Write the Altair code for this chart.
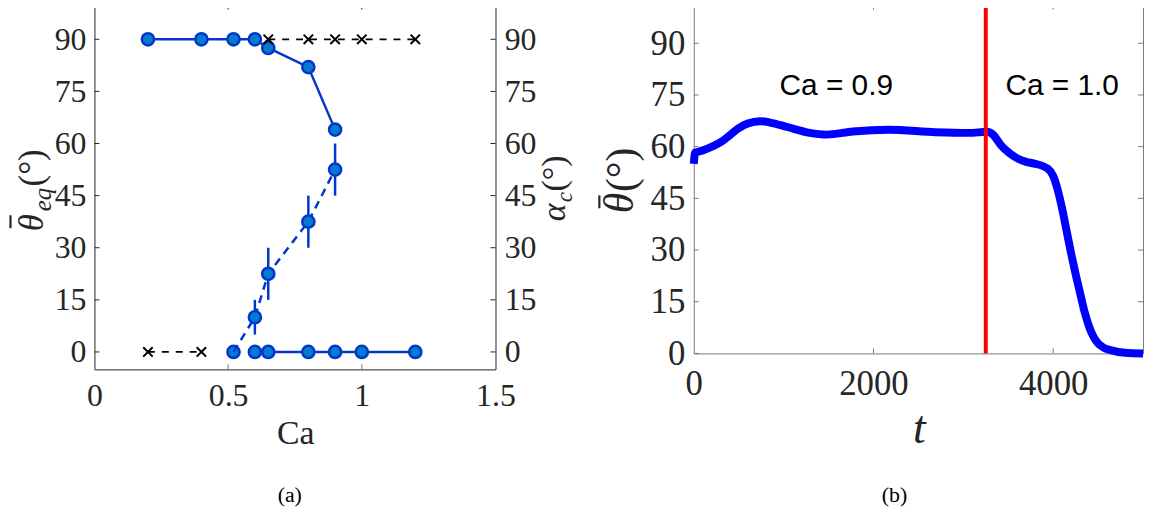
import altair as alt
import pandas as pd

# ---------------- Panel (a) data ----------------
ca_upper = [0.2, 0.4, 0.52, 0.6, 0.65, 0.8, 0.9]
theta_upper = [90, 90, 90, 90, 87.5, 82, 64]
ca_lower_line = [0.6, 0.65, 0.8, 0.9, 1.0, 1.2]
ca_lower_pts = [0.52, 0.6, 0.65, 0.8, 0.9, 1.0, 1.2]
theta_lower = [0, 0, 0, 0, 0, 0, 0]
ca_alpha = [0.52, 0.6, 0.65, 0.8, 0.9]
alpha_c = [0, 10, 22.5, 37.5, 52.5]
alpha_lo = [0, 5, 15, 30, 45]
alpha_hi = [0, 15, 30, 45, 60]
ca_cross_hi = [0.65, 0.8, 0.9, 1.0, 1.2]
cross_hi = [90, 90, 90, 90, 90]
ca_cross_lo = [0.2, 0.4]
cross_lo = [0, 0]
y_ticks = [0, 15, 30, 45, 60, 75, 90]
xa_ticks = [0, 0.5, 1, 1.5]
xa_inner = [0.5, 1]

# ---------------- Panel (b) data ----------------
t_vals = [0, 15, 60, 120, 200, 300, 400, 490, 600, 740, 850, 1040, 1290, 1480,
          1770, 2170, 2690, 3060, 3270, 3330, 3420, 3510, 3610, 3700, 3790, 3940,
          4000, 4050, 4100, 4150, 4200, 4250, 4300, 4350, 4400, 4450, 4500, 4560,
          4650, 4800, 5000]
theta_t = [55, 58.3, 58.6, 59.1, 60, 61.3, 63.3, 65.2, 66.7, 67.4, 67, 65.7, 64.0,
           63.5, 64.4, 64.9, 64.2, 64.0, 64.3, 63.5, 60.4, 58.2, 56.5, 55.6, 55.1,
           53.6, 51.5, 47.5, 42, 35.5, 29, 23, 17.5, 12, 7.8, 4.8, 2.9, 1.7,
           0.9, 0.2, 0]
t_switch = [3250]
ann_t = [1586, 4100]
ann_y = [77.7, 77.7]
ann_text = ["Ca = 0.9", "Ca = 1.0"]
xb_ticks = [0, 2000, 4000]
xb_inner = [2000, 4000]

SERIF = "Liberation Serif"
SANS = "Liberation Sans"
DARK = "#262626"
GRAY = "#7a7a7a"
LINE_BLUE = "#0038CC"
FILL_BLUE = "#0779CF"

W1, H1 = 403.5, 367
W2, H2 = 452, 351

one = pd.DataFrame({"a": [0]})

def txt(s, x, y, size, angle=0, style="normal", font=SERIF, align="center",
        baseline="middle", color=DARK):
    return alt.Chart(one).mark_text(
        text=s, fontSize=size, angle=angle, fontStyle=style, font=font,
        align=align, baseline=baseline, color=color
    ).encode(x=alt.value(x), y=alt.value(y))

def bar(x, y1, y2, color=DARK):
    return alt.Chart(one).mark_rule(color=color, strokeWidth=2.2).encode(
        x=alt.value(x), x2=alt.value(x), y=alt.value(y1), y2=alt.value(y2))

def ghost(x, y):
    return alt.Chart(one).mark_rule(strokeOpacity=0, strokeWidth=1).encode(
        x=alt.value(x), x2=alt.value(x), y=alt.value(y), y2=alt.value(y + 1))

# ---------- Panel (a) ----------
sxA = alt.Scale(domain=[0, 1.5], nice=False, zero=False)
syA = alt.Scale(domain=[-5, 100], nice=False, zero=False)

axA_x = alt.Axis(values=xa_ticks, format="~g", ticks=False, grid=False, domain=True,
                 domainColor=GRAY, domainWidth=1, labelFont=SERIF, labelFontSize=32,
                 labelColor=DARK, labelPadding=11, labelFlush=False, labelOverlap=False,
                 title=None)
axA_yl = alt.Axis(values=y_ticks, orient="left", ticks=False, grid=False, domain=False,
                  labelFont=SERIF, labelFontSize=32, labelColor=DARK, labelPadding=8.5,
                  labelOverlap=False, title=None)
axA_yr = alt.Axis(values=y_ticks, orient="right", ticks=False, grid=False, domain=False,
                  labelFont=SERIF, labelFontSize=32, labelColor=DARK, labelPadding=8.7,
                  labelOverlap=False, title=None)

def XA(f):
    return alt.X(f, type="quantitative", scale=sxA, axis=axA_x)

def YA(f):
    return alt.Y(f, type="quantitative", scale=syA, axis=axA_yl)

df_up = pd.DataFrame({"ca": ca_upper, "th": theta_upper})
df_lowl = pd.DataFrame({"ca": ca_lower_line, "th": [0] * len(ca_lower_line)})
df_lowp = pd.DataFrame({"ca": ca_lower_pts, "th": theta_lower})
df_al = pd.DataFrame({"ca": ca_alpha, "al": alpha_c, "lo": alpha_lo, "hi": alpha_hi})
df_xh = pd.DataFrame({"ca": ca_cross_hi, "v": cross_hi})
df_xl = pd.DataFrame({"ca": ca_cross_lo, "v": cross_lo})
df_yt = pd.DataFrame({"v": y_ticks})
df_xat = pd.DataFrame({"v": xa_inner})

circle = dict(shape="circle", size=150, filled=True, fill=FILL_BLUE, stroke=LINE_BLUE,
              strokeWidth=2.5, opacity=1)
cross = dict(shape="M-1,-1L1,1M-1,1L1,-1", size=90, filled=False, stroke="black",
             strokeWidth=2, opacity=1)

a_layers = [
    alt.Chart(df_up).mark_line(color=LINE_BLUE, strokeWidth=2.5).encode(
        x=XA("ca"), y=YA("th")),
    alt.Chart(df_up).mark_point(**circle).encode(x=XA("ca"), y=YA("th")),
    alt.Chart(df_lowl).mark_line(color=LINE_BLUE, strokeWidth=2.5).encode(
        x=XA("ca"), y=YA("th")),
    alt.Chart(df_lowp).mark_point(**circle).encode(x=XA("ca"), y=YA("th")),
    alt.Chart(df_al).mark_line(color=LINE_BLUE, strokeWidth=2.5, strokeDash=[8, 6]).encode(
        x=XA("ca"), y=YA("al")),
    alt.Chart(df_al[df_al.hi > 0]).mark_rule(color=LINE_BLUE, strokeWidth=2.5).encode(
        x=XA("ca"), y=YA("lo"), y2="hi"),
    alt.Chart(df_al[df_al.hi > 0]).mark_point(**circle).encode(x=XA("ca"), y=YA("al")),
    alt.Chart(df_xh).mark_line(color="black", strokeWidth=1.8, strokeDash=[7, 7]).encode(
        x=XA("ca"), y=YA("v")),
    alt.Chart(df_xh).mark_point(**cross).encode(x=XA("ca"), y=YA("v")),
    alt.Chart(df_xl).mark_line(color="black", strokeWidth=1.8, strokeDash=[7, 7]).encode(
        x=XA("ca"), y=YA("v")),
    alt.Chart(df_xl).mark_point(**cross).encode(x=XA("ca"), y=YA("v")),
    # inward ticks
    alt.Chart(df_yt).mark_rule(color=DARK, strokeWidth=1).encode(
        y=YA("v"), x=alt.value(0), x2=alt.value(5)),
    alt.Chart(df_yt).mark_rule(color=DARK, strokeWidth=1).encode(
        y=YA("v"), x=alt.value(W1 - 5), x2=alt.value(W1)),
    alt.Chart(df_xat).mark_rule(color=DARK, strokeWidth=1).encode(
        x=XA("v"), y=alt.value(0), y2=alt.value(5)),
    alt.Chart(df_xat).mark_rule(color=GRAY, strokeWidth=1).encode(
        x=XA("v"), y=alt.value(H1 - 5), y2=alt.value(H1)),
    # titles
    txt("θ", -51.5, 228, 35, angle=270, style="italic", align="left", baseline="alphabetic"),
    bar(-84.5, 212, 225),
    txt("eq", -44, 208, 25, angle=270, style="italic", align="left", baseline="alphabetic"),
    txt("(°)", -51.5, 183, 35, angle=270, align="left", baseline="alphabetic"),
    txt("α", 473.5, 218, 34, angle=270, style="italic", align="left", baseline="alphabetic"),
    txt("c", 480, 199, 23, angle=270, style="italic", align="left", baseline="alphabetic"),
    txt("(°)", 473.5, 188, 34, angle=270, align="left", baseline="alphabetic"),
    txt("Ca", 202.5, 432, 34),
    txt("(a)", 196.5, 493, 22, color="black"),
    ghost(-86, 0),
    ghost(491, 0),
]
main_a = alt.layer(*a_layers)
right_axis_a = alt.Chart(df_yt).mark_rule(opacity=0).encode(
    y=alt.Y("v", type="quantitative", scale=syA, axis=axA_yr))
panel_a = alt.layer(main_a, right_axis_a).resolve_scale(y="independent").properties(
    width=W1, height=H1, view=alt.ViewBackground(stroke=DARK, strokeWidth=1))

# ---------- Panel (b) ----------
sxB = alt.Scale(domain=[0, 5000], nice=False, zero=False)
syB = alt.Scale(domain=[0, 101.24], nice=False, zero=False)

axB_x = alt.Axis(values=xb_ticks, ticks=False, grid=False, domain=False,
                 labelFont=SERIF, labelFontSize=35, labelColor=DARK, labelPadding=13,
                 labelFlush=False, labelOverlap=False, title=None, format="d")
axB_y = alt.Axis(values=y_ticks, ticks=False, grid=False, domain=False,
                 labelFont=SERIF, labelFontSize=35, labelColor=DARK, labelPadding=9,
                 labelOverlap=False, title=None)

def XB(f):
    return alt.X(f, type="quantitative", scale=sxB, axis=axB_x)

def YB(f):
    return alt.Y(f, type="quantitative", scale=syB, axis=axB_y)

df_curve = pd.DataFrame({"t": t_vals, "th": theta_t})
df_sw = pd.DataFrame({"t": t_switch})
df_ann = pd.DataFrame({"t": ann_t, "y": ann_y, "s": ann_text})
df_xbt = pd.DataFrame({"v": xb_inner})

b_layers = [
    alt.Chart(df_yt).mark_rule(color=GRAY, strokeWidth=1).encode(
        y=YB("v"), x=alt.value(0), x2=alt.value(5)),
    alt.Chart(df_yt).mark_rule(color=GRAY, strokeWidth=1).encode(
        y=YB("v"), x=alt.value(W2 - 5), x2=alt.value(W2)),
    alt.Chart(df_xbt).mark_rule(color=GRAY, strokeWidth=1).encode(
        x=XB("v"), y=alt.value(0), y2=alt.value(5)),
    alt.Chart(df_xbt).mark_rule(color=GRAY, strokeWidth=1).encode(
        x=XB("v"), y=alt.value(H2 - 5), y2=alt.value(H2)),
    alt.Chart(df_curve).mark_line(color="#0000FF", strokeWidth=8, interpolate="monotone",
                                  strokeJoin="round").encode(x=XB("t"), y=YB("th")),
    alt.Chart(df_sw).mark_rule(color="#FF0000", strokeWidth=4).encode(x=XB("t")),
    alt.Chart(df_ann).mark_text(font=SANS, fontSize=30, color="black").encode(
        x=XB("t"), y=YB("y"), text="s"),
    txt("θ", -61, 210, 42, angle=270, style="italic", align="left", baseline="alphabetic"),
    bar(-95, 192, 205),
    txt("(°)", -59, 188.7, 42, angle=270, align="left", baseline="alphabetic"),
    txt("t", 227, 427, 46, style="italic"),
    txt("(b)", 202, 493, 22, color="black"),
    ghost(-110, 0),
]
panel_b = alt.layer(*b_layers).properties(
    width=W2, height=H2, view=alt.ViewBackground(stroke=GRAY, strokeWidth=1))

chart = alt.hconcat(panel_a, panel_b, spacing=0).properties(
    padding={"left": 0, "top": -8, "right": -3, "bottom": 0})

chart.save("out.html", embed_options={"renderer": "svg", "actions": False})
